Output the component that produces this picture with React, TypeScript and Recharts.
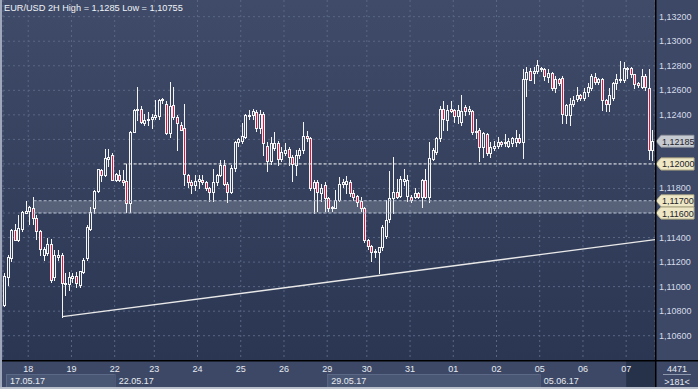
import React from 'react';
import { ComposedChart, Bar, XAxis, YAxis, CartesianGrid, ReferenceLine, ReferenceArea } from 'recharts';

type OHLC = [number, number, number, number]; // open, high, low, close

const d17May: OHLC[] = [
  [1.1085, 1.1111, 1.1084, 1.1109], [1.1108, 1.1126, 1.1101, 1.1124], [1.1123, 1.1147, 1.1121, 1.1146],
  [1.1146, 1.1151, 1.1138, 1.1138], [1.1138, 1.1158, 1.1137, 1.1148], [1.1147, 1.1162, 1.1145, 1.1161],
  [1.1160, 1.1170, 1.1160, 1.1162],
];
const d18May: OHLC[] = [
  [1.1162, 1.1166, 1.1151, 1.1165], [1.1164, 1.1173, 1.1151, 1.1156], [1.1156, 1.1158, 1.1139, 1.1145],
  [1.1145, 1.1146, 1.1126, 1.1131], [1.1126, 1.1132, 1.1122, 1.1131], [1.1127, 1.1140, 1.1126, 1.1135],
  [1.1135, 1.1139, 1.1104, 1.1105], [1.1108, 1.1130, 1.1105, 1.1126], [1.1124, 1.1130, 1.1122, 1.1126],
  [1.1126, 1.1127, 1.10755, 1.1103], [1.1102, 1.1111, 1.1093, 1.1103], [1.1102, 1.1112, 1.1097, 1.1108],
];
const d19May: OHLC[] = [
  [1.1107, 1.1111, 1.1104, 1.1109], [1.1109, 1.1112, 1.1100, 1.1103], [1.1101, 1.1113, 1.1100, 1.1113],
  [1.1112, 1.1123, 1.1111, 1.1122], [1.1123, 1.1150, 1.1122, 1.1149], [1.1147, 1.1165, 1.1146, 1.1161],
  [1.1164, 1.1179, 1.1160, 1.1178], [1.1178, 1.1196, 1.1177, 1.1196], [1.1195, 1.1196, 1.1186, 1.1191],
  [1.1191, 1.1212, 1.1190, 1.1205], [1.1204, 1.1212, 1.1198, 1.1206], [1.1207, 1.1209, 1.1187, 1.1187],
];
const d22May: OHLC[] = [
  [1.1187, 1.1193, 1.1186, 1.1192], [1.1191, 1.1195, 1.1186, 1.1187], [1.1187, 1.1195, 1.1183, 1.1185],
  [1.1186, 1.1200, 1.1161, 1.1168], [1.1168, 1.1227, 1.1161, 1.1226], [1.1226, 1.1245, 1.1226, 1.1244],
  [1.1244, 1.1263, 1.1236, 1.1245], [1.1245, 1.1247, 1.1233, 1.1234], [1.1233, 1.1241, 1.1232, 1.1236],
  [1.1236, 1.1242, 1.1232, 1.1237], [1.1237, 1.1241, 1.1229, 1.1238],
];
const d23May: OHLC[] = [
  [1.1238, 1.1252, 1.1237, 1.1240], [1.1239, 1.1253, 1.1237, 1.1252], [1.1252, 1.1254, 1.1250, 1.1253],
  [1.1249, 1.1251, 1.1224, 1.1225], [1.1225, 1.1267, 1.1222, 1.1247], [1.1248, 1.1263, 1.1237, 1.1238],
  [1.1238, 1.1240, 1.1211, 1.1233], [1.1232, 1.1234, 1.1228, 1.1228], [1.1229, 1.1249, 1.1183, 1.1192],
  [1.1191, 1.1192, 1.1181, 1.1185], [1.1185, 1.1187, 1.1176, 1.1183], [1.1183, 1.1191, 1.1179, 1.1186],
];
const d24May: OHLC[] = [
  [1.1186, 1.1191, 1.1180, 1.1188], [1.1187, 1.1191, 1.1184, 1.1185], [1.1185, 1.1186, 1.1179, 1.1180],
  [1.1180, 1.1181, 1.1170, 1.1177], [1.1177, 1.1196, 1.1170, 1.1185], [1.1185, 1.1192, 1.1183, 1.1191],
  [1.1191, 1.1203, 1.1190, 1.1199], [1.1199, 1.1203, 1.1183, 1.1184], [1.1184, 1.1185, 1.1169, 1.1177],
  [1.1177, 1.1199, 1.1176, 1.1197], [1.1197, 1.1219, 1.1194, 1.1218], [1.1218, 1.1221, 1.1215, 1.1220],
];
const d25May: OHLC[] = [
  [1.1219, 1.1233, 1.1217, 1.1223], [1.1222, 1.1241, 1.1221, 1.1240], [1.1239, 1.1244, 1.1237, 1.1240],
  [1.1240, 1.1245, 1.1237, 1.1243], [1.1242, 1.1244, 1.1227, 1.1229], [1.1229, 1.1244, 1.1225, 1.1241],
  [1.1241, 1.1242, 1.1207, 1.1217], [1.1215, 1.1218, 1.1194, 1.1202], [1.1202, 1.1222, 1.1200, 1.1217],
  [1.1213, 1.1226, 1.1211, 1.1217], [1.1217, 1.1219, 1.1199, 1.1204], [1.1204, 1.1214, 1.1202, 1.1210],
];
const d26May: OHLC[] = [
  [1.1209, 1.1217, 1.1207, 1.1211], [1.1212, 1.1214, 1.1199, 1.1206], [1.1206, 1.1207, 1.1186, 1.1200],
  [1.1199, 1.1211, 1.1191, 1.1207], [1.1207, 1.1213, 1.1205, 1.1211], [1.1211, 1.1234, 1.1209, 1.1223],
  [1.1223, 1.1227, 1.1219, 1.1221], [1.1221, 1.1222, 1.1179, 1.1180], [1.1180, 1.1187, 1.1160, 1.1185],
  [1.1185, 1.1187, 1.1162, 1.1177], [1.1176, 1.1184, 1.1170, 1.1180], [1.1183, 1.1185, 1.1162, 1.1172],
];
const d29May: OHLC[] = [
  [1.1172, 1.1173, 1.1162, 1.1164], [1.1164, 1.1166, 1.1162, 1.1165], [1.1164, 1.1179, 1.1164, 1.1171],
  [1.1171, 1.1189, 1.1170, 1.1184], [1.1184, 1.1188, 1.1181, 1.1185], [1.1184, 1.1190, 1.1176, 1.1186],
  [1.1185, 1.1187, 1.1174, 1.1176], [1.1176, 1.1179, 1.1171, 1.1173], [1.1174, 1.1175, 1.1166, 1.1169],
  [1.1170, 1.1173, 1.1162, 1.1164], [1.1164, 1.1165, 1.1136, 1.1138],
];
const d30May: OHLC[] = [
  [1.1138, 1.1139, 1.1131, 1.1133], [1.1133, 1.1134, 1.1121, 1.1128], [1.1128, 1.1131, 1.1124, 1.1129],
  [1.1128, 1.1132, 1.1111, 1.1132], [1.1132, 1.1150, 1.1130, 1.1149], [1.1141, 1.1171, 1.1140, 1.1154],
  [1.1155, 1.1194, 1.1153, 1.1172], [1.1172, 1.1206, 1.1160, 1.1177], [1.1177, 1.1188, 1.1172, 1.1173],
  [1.1174, 1.1190, 1.1173, 1.1188], [1.1186, 1.1196, 1.1183, 1.1188], [1.1174, 1.1191, 1.1170, 1.1187],
];
const d31May: OHLC[] = [
  [1.1173, 1.1175, 1.1169, 1.1171], [1.1173, 1.1180, 1.1172, 1.1176], [1.1176, 1.1177, 1.1172, 1.1173],
  [1.1173, 1.1188, 1.1165, 1.1187], [1.1187, 1.1196, 1.1172, 1.1173], [1.1173, 1.1218, 1.1169, 1.1205],
  [1.1204, 1.1213, 1.1203, 1.1211], [1.1210, 1.1222, 1.1208, 1.1221], [1.1221, 1.1247, 1.1219, 1.1245],
  [1.1245, 1.1251, 1.1228, 1.1237], [1.1236, 1.1248, 1.1228, 1.1244], [1.1245, 1.1251, 1.1242, 1.1243],
];
const d01Jun: OHLC[] = [
  [1.1244, 1.1245, 1.1234, 1.1239], [1.1239, 1.1248, 1.1233, 1.1244], [1.1234, 1.1256, 1.1232, 1.1243],
  [1.1246, 1.1248, 1.1240, 1.1243], [1.1243, 1.1247, 1.1241, 1.1245], [1.1243, 1.1244, 1.1224, 1.1226],
  [1.1226, 1.1237, 1.1221, 1.1227], [1.1228, 1.1229, 1.1202, 1.1214], [1.1214, 1.1226, 1.1206, 1.1225],
  [1.1224, 1.1225, 1.1207, 1.1209], [1.1209, 1.1218, 1.1206, 1.1214], [1.1213, 1.1219, 1.1211, 1.1215],
];
const d02Jun: OHLC[] = [
  [1.1215, 1.1222, 1.1213, 1.1218], [1.1218, 1.1219, 1.1215, 1.1216], [1.1217, 1.1224, 1.1215, 1.1218],
  [1.1215, 1.1221, 1.1214, 1.1219], [1.1217, 1.1222, 1.1215, 1.1221], [1.1218, 1.1228, 1.1215, 1.1221],
  [1.1221, 1.1224, 1.1217, 1.1218], [1.1218, 1.1277, 1.1205, 1.1269], [1.1269, 1.1279, 1.1255, 1.1275],
  [1.1276, 1.1278, 1.1268, 1.1268], [1.1274, 1.1279, 1.1266, 1.1276], [1.1276, 1.1285, 1.1274, 1.1281],
];
const d05Jun: OHLC[] = [
  [1.1278, 1.1279, 1.1276, 1.1277], [1.1277, 1.1278, 1.1268, 1.1272], [1.1271, 1.1277, 1.1267, 1.1274],
  [1.1274, 1.1275, 1.1260, 1.1262], [1.1262, 1.1272, 1.1259, 1.1269], [1.1269, 1.1270, 1.1264, 1.1266],
  [1.1270, 1.1272, 1.1233, 1.1241], [1.1240, 1.1249, 1.1233, 1.1248], [1.1240, 1.1254, 1.1232, 1.1249],
  [1.1249, 1.1255, 1.1247, 1.1252], [1.1253, 1.1263, 1.1251, 1.1256], [1.1256, 1.1257, 1.1252, 1.1254],
];
const d06Jun: OHLC[] = [
  [1.1254, 1.1262, 1.1252, 1.1259], [1.1259, 1.1266, 1.1255, 1.1263], [1.1262, 1.1273, 1.1260, 1.1272],
  [1.1271, 1.1274, 1.1265, 1.1267], [1.1267, 1.1270, 1.1265, 1.1269], [1.1269, 1.1270, 1.1244, 1.1252],
  [1.1252, 1.1253, 1.1243, 1.1249], [1.1249, 1.1262, 1.1243, 1.1256], [1.1254, 1.1267, 1.1252, 1.1266],
  [1.1266, 1.1273, 1.1261, 1.1269], [1.1268, 1.1284, 1.1267, 1.1269], [1.1268, 1.1283, 1.1267, 1.1278],
];
const d07Jun: OHLC[] = [
  [1.1277, 1.1279, 1.1270, 1.1278], [1.1278, 1.1279, 1.1271, 1.1273], [1.1273, 1.1273, 1.1262, 1.1265],
  [1.1266, 1.1267, 1.1263, 1.1264], [1.1263, 1.1277, 1.1262, 1.1272], [1.1272, 1.1273, 1.1260, 1.1263],
  [1.1262, 1.1277, 1.1204, 1.1211], [1.1211, 1.1228, 1.1203, 1.12185],
];

const dayGroups: OHLC[][] = [d17May, d18May, d19May, d22May, d23May, d24May, d25May, d26May, d29May, d30May, d31May, d01Jun, d02Jun, d05Jun, d06Jun, d07Jun];
const dayLabels = ['', '18', '19', '22', '23', '24', '25', '26', '29', '30', '31', '01', '02', '05', '06', '07'];
const weekLabels = ['17.05.17', '22.05.17', '29.05.17', '05.06.17'];
const weekFirstDay = [0, 3, 8, 13];
const weekShaded = [true, false, true, false];

const priceTicks = [1.106, 1.108, 1.11, 1.112, 1.114, 1.116, 1.118, 1.12, 1.122, 1.124, 1.126, 1.128, 1.13, 1.132];
const hiddenPriceTicks = [1.116, 1.12, 1.122];
const lastPrice = 1.12185;
const levelPrice = 1.12;
const zoneLow = 1.116;
const zoneHigh = 1.117;
const tagPrices = [lastPrice, levelPrice, zoneHigh, zoneLow];
const trendStart = { bar: 16, price: 1.10755 };
const trendEndPrice = 1.11383;
const levelStartBar = 33;
const zoneStartBar = 8;
const titleText = 'EUR/USD 2H High = 1,1285 Low = 1,10755';
const cornerTop = '4471';
const cornerBottom = '>181<';

// ---- build chart table ----
const dayStart: number[] = [];
const data: { i: number; open: number; high: number; low: number; close: number; range: [number, number] }[] = [];
dayGroups.forEach((g) => {
  dayStart.push(data.length);
  g.forEach(([o, h, l, c]) => {
    data.push({ i: data.length, open: o, high: h, low: l, close: c, range: [l, h] });
  });
});
const N = data.length;
const dayTicks = dayStart.map((s) => s - 0.5);
const allYTicks = [...priceTicks, ...tagPrices].sort((a, b) => a - b);

const W = 698;
const H = 389;
const PLOT_LEFT = 3;
const PLOT_RIGHT = 655;
const PLOT_BOTTOM = 360;
const BAR_PX = (PLOT_RIGHT - PLOT_LEFT) / N;
const Y_DOMAIN: [number, number] = [1.10402, 1.13336];

const FONT = '"Liberation Sans", Arial, sans-serif';
const AXIS_BG = '#3c4865';
const BEAR = '#e3173f';
const WHITE = '#f4f4f4';

const fmt = (v: number) => v.toFixed(5).replace('.', ',');
const same = (a: number, b: number) => Math.abs(a - b) < 1e-9;

function Candle(props: any) {
  const { x, y, width, height } = props;
  const p = props.payload ?? props;
  if (x == null || y == null || p == null || p.open == null) return <g />;
  const { open, high, low, close } = p;
  const top = Math.min(y, y + height);
  const h = Math.abs(height);
  const span = high - low;
  const yOf = (v: number) => (span > 0 ? top + ((high - v) / span) * h : top);
  const left = Math.round(x + width / 2 - 1.5);
  const wTop = Math.round(top);
  const wBot = Math.round(top + h);
  const bTop = Math.round(yOf(Math.max(open, close)));
  const bBot = Math.round(yOf(Math.min(open, close)));
  const hb = bBot - bTop;
  const bear = close < open;
  return (
    <g>
      <rect x={left + 1} y={wTop} width={1} height={Math.max(1, wBot - wTop + 1)} fill={WHITE} />
      <rect x={left} y={bTop} width={3} height={Math.max(1, hb + 1)} fill={WHITE} />
      {hb >= 2 && <rect x={left + 1} y={bTop + 1} width={1} height={hb - 1} fill={bear ? BEAR : 'url(#plotBg)'} />}
    </g>
  );
}

function PriceTick(props: any) {
  const { x, y, payload } = props;
  const v = payload.value;
  if (tagPrices.some((t) => same(t, v))) {
    const isLast = same(v, lastPrice);
    const fill = isLast ? '#c6cad1' : '#eee8c6';
    const stroke = isLast ? '#8d929c' : '#a8a282';
    const x0 = x - 3;
    const pts = `${x0},${y} ${x0 + 5},${y - 6} ${x0 + 38},${y - 6} ${x0 + 38},${y + 6} ${x0 + 5},${y + 6}`;
    return (
      <g>
        <polygon points={pts} fill={fill} stroke={stroke} strokeWidth={0.8} />
        <text x={x0 + 6} y={y + 3.5} fill="#1f232b" fontSize={9} fontFamily={FONT}>
          {fmt(v)}
        </text>
      </g>
    );
  }
  if (hiddenPriceTicks.some((t) => same(t, v))) return <g />;
  return (
    <text x={x} y={y + 3} fill="#d6dcea" fontSize={9} fontFamily={FONT} textAnchor="start">
      {fmt(v)}
    </text>
  );
}

function DayTick(props: any) {
  const { x, y, payload } = props;
  const k = dayTicks.findIndex((t) => same(t, payload.value));
  if (k < 0) return <g />;
  const parts: React.ReactNode[] = [];
  const wk = weekFirstDay.indexOf(k);
  if (wk >= 0) {
    const endDay = wk + 1 < weekFirstDay.length ? weekFirstDay[wk + 1] : dayGroups.length - 1;
    const x0 = Math.max(x, 6);
    const x1 = x + (dayStart[endDay] - dayStart[k]) * BAR_PX;
    if (weekShaded[wk]) {
      parts.push(<rect key="wb" x={x0} y={y + 14} width={x1 - x0} height={13} fill="#4a5774" />);
      parts.push(<rect key="wt" x={x0} y={y + 14} width={x1 - x0} height={1} fill="#5b6886" />);
      parts.push(<rect key="wl" x={x0} y={y + 14} width={1} height={13} fill="#5b6886" />);
    } else {
      parts.push(<rect key="wl" x={x0} y={y + 14} width={1} height={13} fill="#56627f" />);
    }
    parts.push(
      <text key="wt2" x={x0 + 4} y={y + 23.5} fill="#e6eaf2" fontSize={9} fontFamily={FONT}>
        {weekLabels[wk]}
      </text>
    );
  }
  if (k === dayGroups.length - 1) {
    parts.push(<rect key="cur" x={x} y={y + 1} width={(N - dayStart[k]) * BAR_PX} height={26} fill="#26314a" />);
  }
  parts.push(
    <text key="dl" x={x} y={y + 12} fill="#e6eaf2" fontSize={9} fontFamily={FONT} textAnchor="middle">
      {dayLabels[k]}
    </text>
  );
  return <g>{parts}</g>;
}

export default function App() {
  return (
    <div style={{ width: W, height: H, position: 'relative', background: AXIS_BG, overflow: 'hidden' }}>
      <style>{`body{margin:0;}`}</style>
      <ComposedChart width={W} height={H} data={data} margin={{ top: 0, right: 0, bottom: 0, left: PLOT_LEFT }}>
        <defs>
          <linearGradient id="plotBg" x1="0" y1="0" x2="0" y2={PLOT_BOTTOM} gradientUnits="userSpaceOnUse">
            <stop offset="0%" stopColor="#3f4b68" />
            <stop offset="100%" stopColor="#2a3652" />
          </linearGradient>
        </defs>
        <CartesianGrid
          stroke="#5a6784"
          strokeDasharray="2 3"
          fill="url(#plotBg)"
          fillOpacity={1}
          horizontalValues={priceTicks}
        />
        <XAxis
          dataKey="i"
          type="number"
          domain={[-0.5, N - 0.5]}
          ticks={dayTicks}
          interval={0}
          allowDataOverflow
          axisLine={false}
          tickLine={false}
          tickSize={0}
          tickMargin={0}
          height={H - PLOT_BOTTOM}
          tick={<DayTick />}
        />
        <YAxis
          orientation="right"
          type="number"
          domain={Y_DOMAIN}
          ticks={allYTicks}
          interval={0}
          allowDataOverflow
          axisLine={false}
          tickLine={false}
          tickSize={0}
          tickMargin={4}
          width={W - PLOT_RIGHT}
          tick={<PriceTick />}
        />
        <ReferenceArea x1={zoneStartBar} x2={N - 0.5} y1={zoneLow} y2={zoneHigh} fill="#ffffff" fillOpacity={0.18} stroke="none" />
        <ReferenceLine segment={[{ x: zoneStartBar, y: zoneHigh }, { x: N - 0.5, y: zoneHigh }]} stroke="#b4bccc" strokeDasharray="3 2" />
        <ReferenceLine segment={[{ x: zoneStartBar, y: zoneLow }, { x: N - 0.5, y: zoneLow }]} stroke="#b4bccc" strokeDasharray="3 2" />
        <ReferenceLine segment={[{ x: levelStartBar, y: levelPrice }, { x: N - 0.5, y: levelPrice }]} stroke="#f2f2f2" strokeDasharray="3 2" />
        <ReferenceLine
          segment={[{ x: trendStart.bar, y: trendStart.price }, { x: N - 0.5, y: trendEndPrice }]}
          stroke="#e8e8e8"
          strokeWidth={1.3}
        />
        <Bar dataKey="range" barSize={3} shape={(p: any) => <Candle {...p} />} isAnimationActive={false} />
      </ComposedChart>
      <svg width={W} height={H} style={{ position: 'absolute', left: 0, top: 0, pointerEvents: 'none' }}>
        <text x={4} y={11} fill="#f0f3f8" fontSize={9.2} fontFamily={FONT}>{titleText}</text>
        <rect x={PLOT_RIGHT} y={0} width={1.5} height={H} fill="#000" />
        <rect x={0} y={PLOT_BOTTOM} width={W} height={1.5} fill="#000" />
        <text x={677} y={371.5} fill="#e6eaf2" fontSize={9} fontFamily={FONT} textAnchor="middle">{cornerTop}</text>
        <rect x={663} y={374} width={28} height={1} fill="#8d97ad" />
        <text x={677} y={384.5} fill="#e6eaf2" fontSize={9} fontFamily={FONT} textAnchor="middle">{cornerBottom}</text>
        <rect x={0} y={0} width={2} height={H} fill="#9ea8ba" />
        <rect x={0} y={H - 2} width={W} height={2} fill="#b9c0cc" />
      </svg>
    </div>
  );
}
